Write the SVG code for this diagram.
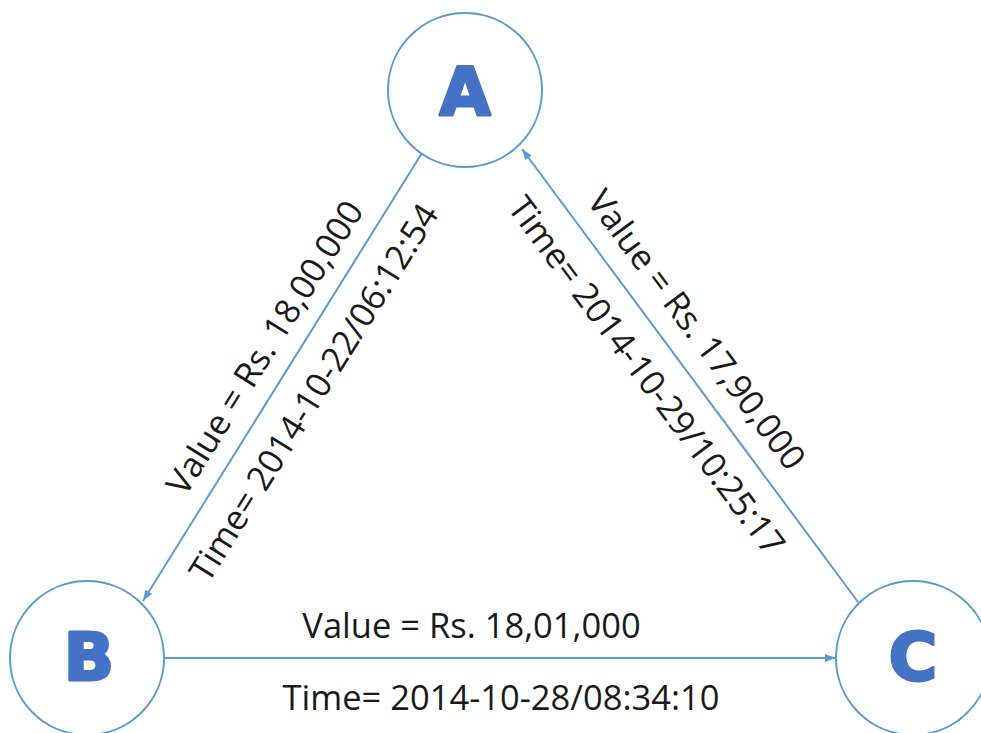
<svg xmlns="http://www.w3.org/2000/svg" width="981" height="733" viewBox="0 0 981 733">
<defs>
<marker id="arr" markerUnits="userSpaceOnUse" markerWidth="12" markerHeight="10" refX="11" refY="5" orient="auto">
<path d="M0,1 L11,5 L0,9 z" fill="#5B9BD5"/>
</marker>
<style>
.node{fill:#fff;stroke:#5B9BD5;stroke-width:2}
.lbl{font-family:"DejaVu Sans","Liberation Sans",sans-serif;font-weight:bold;font-size:66px;fill:#4472C4;stroke:#4472C4;stroke-width:3;stroke-linejoin:round;text-anchor:middle}
.edge{stroke:#5B9BD5;stroke-width:2;fill:none}
.t{font-family:"Open Sans","Liberation Sans",sans-serif;font-size:34.5px;fill:#1a1a1a;text-anchor:middle}
</style>
</defs>
<rect width="981" height="733" fill="#fff"/>
<g id="connectors">
<line class="edge" x1="422" y1="153" x2="143" y2="601" marker-end="url(#arr)"/>
<line class="edge" x1="858" y1="602" x2="522" y2="149" marker-end="url(#arr)"/>
<line class="edge" x1="165" y1="658" x2="836" y2="658" marker-end="url(#arr)"/>
<text class="t" transform="translate(275,354) rotate(-58)">Value = Rs. 18,00,000</text>
<text class="t" transform="translate(324,399) rotate(-58)">Time= 2014-10-22/06:12:54</text>
<text class="t" transform="translate(687,337) rotate(53.3)">Value = Rs. 17,90,000</text>
<text class="t" transform="translate(637,383) rotate(53.3)">Time= 2014-10-29/10:25:17</text>
<text class="t" x="471.5" y="638">Value = Rs. 18,01,000</text>
<text class="t" x="501" y="710">Time= 2014-10-28/08:34:10</text>
</g>
<g id="nodeA">
<circle class="node" cx="465" cy="90" r="77"/>
<text class="lbl" x="465" y="115">A</text>
</g>
<g id="nodeB">
<circle class="node" cx="87" cy="658" r="77"/>
<text class="lbl" x="89" y="680">B</text>
</g>
<g id="nodeC">
<circle class="node" cx="913" cy="658" r="77"/>
<text class="lbl" x="913" y="680">C</text>
</g>
</svg>
